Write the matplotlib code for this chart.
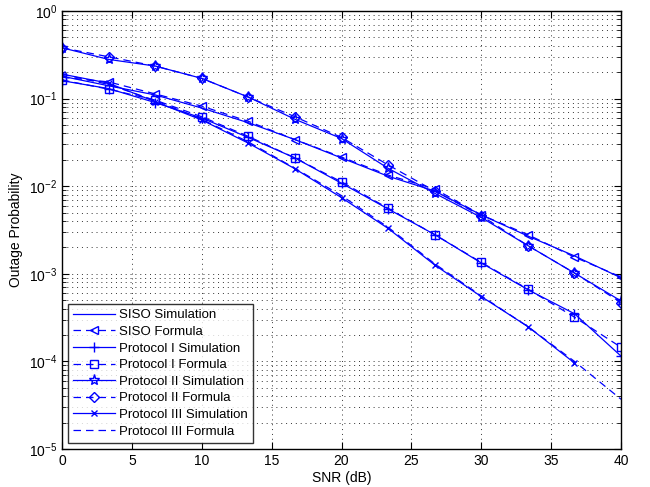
import numpy as np
import matplotlib
matplotlib.use("Agg")
import matplotlib.pyplot as plt
from matplotlib.ticker import LogLocator, MultipleLocator

plt.rcParams["font.family"] = ["Liberation Sans", "DejaVu Sans"]
plt.rcParams["mathtext.fontset"] = "custom"
plt.rcParams["mathtext.rm"] = "Liberation Sans"

# SNR grid (dB)
snr = [0, 3.33, 6.67, 10, 13.33, 16.67, 20, 23.33, 26.67, 30, 33.33, 36.67, 40]

siso_sim = [0.18, 0.14, 0.11, 0.078, 0.053, 0.034, 0.021, 0.013, 0.0088,
            0.0047, 0.0027, 0.0016, 0.00090]
siso_formula = [0.175, 0.155, 0.113, 0.082, 0.055, 0.034, 0.0215, 0.0134,
                0.0093, 0.0047, 0.0028, 0.00155, 0.00092]
p1_sim = [0.16, 0.13, 0.09, 0.06, 0.036, 0.021, 0.0108, 0.0055, 0.0028,
          0.00133, 0.00066, 0.00035, 0.000115]
p1_formula = [0.163, 0.128, 0.096, 0.062, 0.037, 0.021, 0.0112, 0.0056,
              0.0028, 0.00135, 0.00067, 0.00032, 0.000145]
p2_sim = [0.38, 0.28, 0.235, 0.17, 0.104, 0.058, 0.035, 0.016, 0.0083,
          0.0044, 0.0021, 0.00102, 0.00049]
p2_formula = [0.38, 0.30, 0.235, 0.17, 0.104, 0.062, 0.036, 0.0175, 0.0088,
              0.0046, 0.0021, 0.00102, 0.00047]
p3_sim = [0.19, 0.15, 0.092, 0.057, 0.031, 0.0158, 0.0074, 0.0033, 0.00126,
          0.00055, 0.00025, 0.000096, np.nan]
p3_formula = [0.19, 0.145, 0.095, 0.058, 0.032, 0.016, 0.0078, 0.0034,
              0.0013, 0.00056, 0.00025, 0.0001, 0.000037]

blue = "#0000ff"
dash = (0, (6, 4))
fig = plt.figure(figsize=(6.5, 4.87), dpi=100)
ax = fig.add_axes([0.0954, 0.078, 0.8600, 0.8995])

lw = 0.9
ms = 6
ax.semilogy(snr, siso_sim, "-", color=blue, lw=lw, label="SISO Simulation")
ax.semilogy(snr, siso_formula, marker="<", ls=dash, color=blue, lw=lw, ms=ms,
            mfc="none", label="SISO Formula")
ax.semilogy(snr, p1_sim, "-+", color=blue, lw=lw, ms=ms + 1,
            label="Protocol I Simulation")
ax.semilogy(snr, p1_formula, marker="s", ls=dash, color=blue, lw=lw, ms=ms,
            mfc="none", label="Protocol I Formula")
ax.semilogy(snr, p2_sim, "-*", color=blue, lw=lw, ms=ms + 2, mfc="none",
            label="Protocol II Simulation")
ax.semilogy(snr, p2_formula, marker="D", ls=dash, color=blue, lw=lw,
            ms=ms - 1, mfc="none", label="Protocol II Formula")
ax.semilogy(snr, p3_sim, "-x", color=blue, lw=lw, ms=ms - 1,
            label="Protocol III Simulation")
ax.semilogy(snr, p3_formula, ls=dash, color=blue, lw=lw,
            label="Protocol III Formula")

ax.set_xlim(0, 40)
ax.set_ylim(1e-5, 1)
ax.xaxis.set_major_locator(MultipleLocator(5))
ax.yaxis.set_major_locator(LogLocator(base=10, numticks=10))
ax.yaxis.set_minor_locator(LogLocator(base=10, subs=np.arange(2, 10), numticks=10))
ax.yaxis.set_minor_formatter(plt.NullFormatter())

gstyle = dict(ls=(0, (1, 4)), color="#333333", lw=0.7)
ax.grid(True, which="major", **gstyle)
ax.grid(True, which="minor", axis="y", **gstyle)
ax.tick_params(which="both", direction="in", top=True, right=True,
               labelsize=10)
ax.tick_params(which="major", length=5)
ax.tick_params(which="minor", length=3)
for s in ax.spines.values():
    s.set_linewidth(1.0)

ax.set_xlabel("SNR (dB)", fontsize=10, labelpad=2)
ax.set_ylabel("Outage Probability", fontsize=10, labelpad=4)

leg = ax.legend(loc="lower left", bbox_to_anchor=(0.010, 0.014), fontsize=9.5,
                frameon=True, fancybox=False, borderpad=0.4, labelspacing=0.33,
                handlelength=3.2, handletextpad=0.3, borderaxespad=0)
leg.get_frame().set_edgecolor("black")
leg.get_frame().set_linewidth(1.0)

fig.savefig("out.png", dpi=100)
